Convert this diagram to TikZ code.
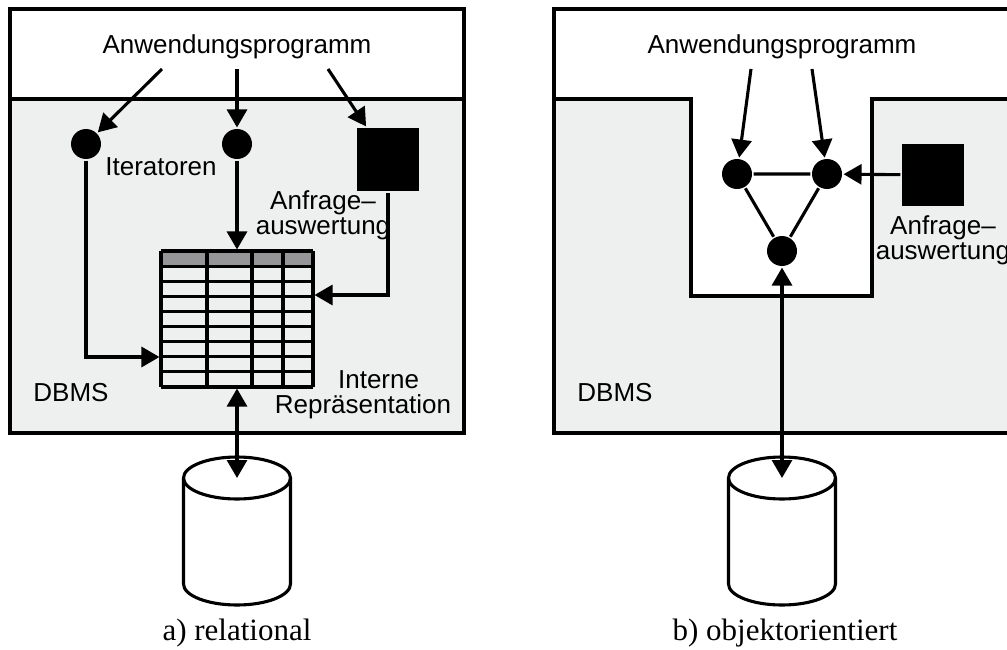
\documentclass[tikz,border=0pt]{standalone}
\usepackage{fontspec}
\setmainfont{Liberation Serif}
\newfontfamily\helv{Liberation Sans}
\usetikzlibrary{arrows.meta, calc}
\definecolor{dbgray}{RGB}{238,240,239}
\definecolor{headgray}{RGB}{150,150,152}
\tikzset{
  dot/.style={circle, fill=black, inner sep=0, minimum size=30pt},
  qbox/.style={fill=black, inner sep=0, minimum width=62pt, minimum height=63pt},
  lbl/.style={font=\helv\fontsize{26}{25}\selectfont, align=center, inner sep=0},
  captxt/.style={font=\fontsize{31}{36}\selectfont, inner sep=0},
  arr/.style={-{Triangle[length=18pt,width=20pt]}},
  darr/.style={{Triangle[length=18pt,width=20pt]}-{Triangle[length=18pt,width=20pt]}},
}

\begin{document}
\begin{tikzpicture}[x=1pt, y=-1pt, line width=3.1pt]
\clip (0,0) rectangle (1007,650);

% a) relational
\fill[dbgray] (10,99) rectangle (464,433);
\draw (10,9) rectangle (464,433) (10,99) -- (464,99);
\node[lbl] (progA) at (237,47) {Anwendungsprogramm};
\coordinate (sA1) at (162,69);
\coordinate (sA2) at (237,69);
\coordinate (sA3) at (328,69);
\node[dot] (itA) at (86,144) {};
\node[dot] (itB) at (237,144) {};
\node[qbox] (qA) at (388,159.5) {};
\node[lbl] (iterA) at (161,167) {Iteratoren};
\node[lbl] (anfrA) at (323,215) {Anfrage\textendash\\auswertung};
\node[lbl] (dbmsA) at (71,393) {DBMS};
\node[lbl] (intA) at (363,395) {\hspace*{1.2em}Interne\\Repr\"asentation};

\node[inner sep=0, minimum width=152pt, minimum height=136pt] (tabA) at (237,319) {};
\fill[headgray] (161,251) rectangle (313,266);
\foreach \k in {0,...,9} \draw (161,{251+\k*15.111}) -- (313,{251+\k*15.111});
\foreach \x in {161,207,252,283,313} \draw (\x,251) -- (\x,387);

\draw[arr] (sA1) -- (itA);
\draw[arr] (sA2) -- (itB);
\draw[arr] (sA3) -- (qA);
\draw[arr] (itA) |- ([yshift=-38pt]tabA.west);
\draw[arr] (itB) -- (tabA.north);
\draw[arr] (qA) |- ([yshift=24pt]tabA.east);

\coordinate (dbA) at (237,478);
\draw (dbA) ellipse [x radius=53.5pt, y radius=21pt];
\draw ($(dbA)+(-53.5,0)$) -- ++(0,106) arc[start angle=180, end angle=360, x radius=53.5pt, y radius=21pt] -- ($(dbA)+(53.5,0)$);
\draw[darr] (tabA.south) -- (dbA);
\node[captxt] (capA) at (237,633) {a) relational};

% b) objektorientiert
\fill[dbgray] (554,99) -- (691,99) -- (691,296) -- (872,296) -- (872,99) -- (1015,99) -- (1015,433) -- (554,433) -- cycle;
\draw (554,9) rectangle (1015,433);
\draw (554,99) -- (691,99) -- (691,296) -- (872,296) -- (872,99) -- (1015,99);
\node[lbl] (progB) at (782,47) {Anwendungsprogramm};
\coordinate (sB1) at (751,69);
\coordinate (sB2) at (812,69);
\node[dot] (cL) at (737,174) {};
\node[dot] (cR) at (827,174) {};
\node[dot] (cB) at (782,251) {};
\node[qbox, minimum height=62pt] (qB) at (933,175) {};
\node[lbl] (anfrB) at (943,240) {Anfrage\textendash\\auswertung};
\node[lbl] (dbmsB) at (615,393) {DBMS};

\draw[arr] (sB1) -- (cL);
\draw[arr] (sB2) -- (cR);
\draw (cL) -- (cR) -- (cB) -- (cL);
\draw[arr] (qB) -- (cR);

\coordinate (dbB) at (782,478);
\draw (dbB) ellipse [x radius=53.5pt, y radius=21pt];
\draw ($(dbB)+(-53.5,0)$) -- ++(0,106) arc[start angle=180, end angle=360, x radius=53.5pt, y radius=21pt] -- ($(dbB)+(53.5,0)$);
\draw[darr] (cB) -- (dbB);
\node[captxt] (capB) at (785,633) {b) objektorientiert};
\end{tikzpicture}
\end{document}
